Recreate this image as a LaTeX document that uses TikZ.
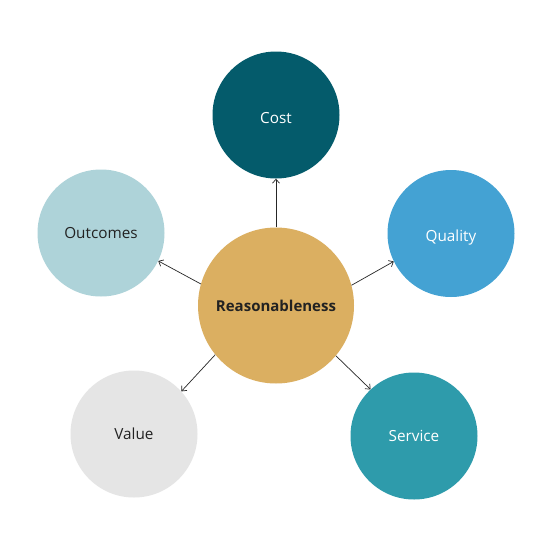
\documentclass[tikz,border=0pt]{standalone}
\usepackage{fontspec}
\setmainfont{Open Sans}
\usetikzlibrary{arrows.meta}
\definecolor{cCost}{HTML}{045B6B}
\definecolor{cQual}{HTML}{44A2D3}
\definecolor{cServ}{HTML}{2E9BAB}
\definecolor{cVal}{HTML}{E5E5E5}
\definecolor{cOut}{HTML}{AED3D9}
\definecolor{cCen}{HTML}{DBAF61}
\definecolor{txt}{HTML}{222222}
\begin{document}
\begin{tikzpicture}[x=1pt,y=1pt,
  outer/.style={circle,minimum size=127pt,inner sep=0pt,text depth=0pt,text height=10.7pt,font=\fontsize{15.3}{17}\selectfont},
  link/.style={draw=black!85,line width=0.7pt,-{Straight Barb[length=4pt,width=7pt]}}]
\useasboundingbox[fill=white] (0,0) rectangle (552,-552);
\node[circle,minimum size=156pt,inner sep=0pt,fill=cCen,text=txt,font=\bfseries\fontsize{15}{17}\selectfont] (c) at (276,-305.5) {Reasonableness};
\node[outer,fill=cCost,text=white,text height=17.7pt] (cost) at (276,-115) {Cost};
\node[outer,fill=cQual,text=white,text height=15.7pt] (qual) at (451,-233.5) {Quality};
\node[outer,fill=cServ,text=white] (serv) at (414,-436) {Service};
\node[outer,fill=cVal,text=txt] (val) at (134,-434) {Value};
\node[outer,fill=cOut,text=txt,text height=11.7pt] (out) at (101,-233) {Outcomes};
\draw[link] (c.90) -- (cost.270);
\draw[link] (c.15.5) -- (qual.206.6);
\draw[link] (c.-40.3) -- (serv.133.7);
\draw[link] (c.219.8) -- (val.42.5);
\draw[link] (c.164.5) -- (out.-26.6);
\end{tikzpicture}
\end{document}
